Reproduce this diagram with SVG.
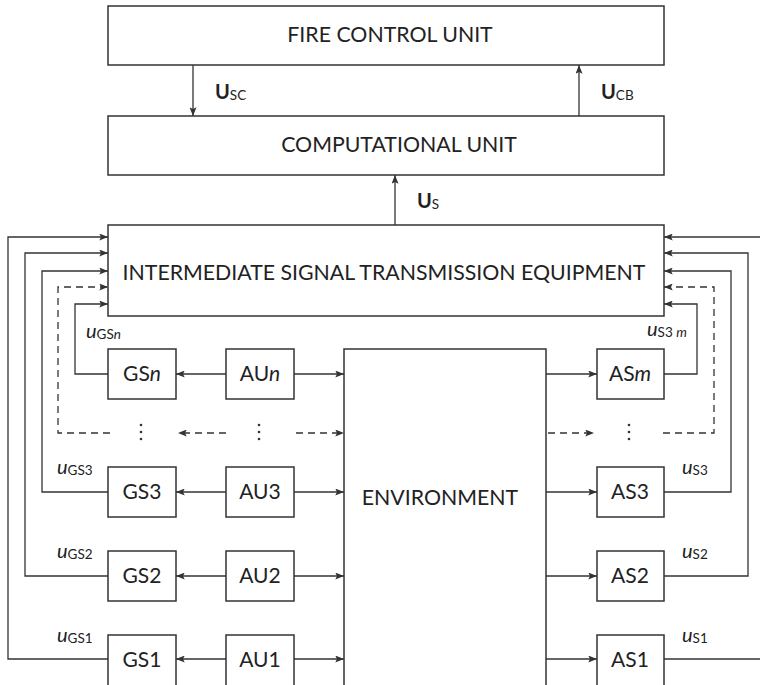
<svg xmlns="http://www.w3.org/2000/svg" width="760" height="685" viewBox="0 0 760 685">
<style>
.box{fill:#fff;stroke:#333;stroke-width:1.5}
.ln{fill:none;stroke:#333;stroke-width:1.3}
.dl{fill:none;stroke:#333;stroke-width:1.3;stroke-dasharray:7,5}
.t{font-family:Lato,"Noto Sans",sans-serif;font-size:21.3px;fill:#222;text-anchor:middle}
.tb{font-family:Lato,"Noto Sans",sans-serif;font-size:21px;fill:#222;text-anchor:middle}
.lb{font-family:Lato,"Noto Sans",sans-serif;font-size:20px;fill:#222}
.sub{font-size:13.5px}
.dot{fill:#333}
</style>
<defs>
<marker id="a" viewBox="0 0 10 8" refX="10" refY="4" markerWidth="9" markerHeight="7" markerUnits="userSpaceOnUse" orient="auto"><path d="M0,0 L10,4 L0,8 L2,4 Z" fill="#333"/></marker>
</defs>
<rect width="760" height="685" fill="#fff"/>
<g id="fcu"><rect class="box" x="108" y="6" width="556" height="59"/><text class="t" x="390" y="42">FIRE CONTROL UNIT</text></g>
<g id="cu"><rect class="box" x="108" y="116" width="556" height="59"/><text class="t" x="399" y="152">COMPUTATIONAL UNIT</text></g>
<g id="iste"><rect class="box" x="108" y="225" width="556" height="91"/><text class="t" x="384" y="280">INTERMEDIATE SIGNAL TRANSMISSION EQUIPMENT</text></g>
<g id="env"><rect class="box" x="344" y="349" width="202" height="340"/><text class="t" x="440" y="505">ENVIRONMENT</text></g>
<g id="gsn"><rect class="box" x="108" y="349" width="68" height="50"/><text class="tb" x="142" y="381">GS<tspan font-style="italic">n</tspan></text></g>
<g id="aun"><rect class="box" x="226" y="349" width="68" height="50"/><text class="tb" x="260" y="381">AU<tspan font-style="italic">n</tspan></text></g>
<g id="asm"><rect class="box" x="597" y="349" width="67" height="50"/><text class="tb" x="630" y="381">AS<tspan font-style="italic">m</tspan></text></g>
<g id="gs3"><rect class="box" x="108" y="467" width="68" height="50"/><text class="tb" x="142" y="499">GS3</text></g>
<g id="au3"><rect class="box" x="226" y="467" width="68" height="50"/><text class="tb" x="260" y="499">AU3</text></g>
<g id="as3"><rect class="box" x="597" y="467" width="67" height="50"/><text class="tb" x="630" y="499">AS3</text></g>
<g id="gs2"><rect class="box" x="108" y="551" width="68" height="50"/><text class="tb" x="142" y="583">GS2</text></g>
<g id="au2"><rect class="box" x="226" y="551" width="68" height="50"/><text class="tb" x="260" y="583">AU2</text></g>
<g id="as2"><rect class="box" x="597" y="551" width="67" height="50"/><text class="tb" x="630" y="583">AS2</text></g>
<g id="gs1"><rect class="box" x="108" y="635" width="68" height="55"/><text class="tb" x="142" y="667">GS1</text></g>
<g id="au1"><rect class="box" x="226" y="635" width="68" height="55"/><text class="tb" x="260" y="667">AU1</text></g>
<g id="as1"><rect class="box" x="597" y="635" width="67" height="55"/><text class="tb" x="630" y="667">AS1</text></g>
<g id="dots">
<circle class="dot" cx="141" cy="425" r="1.3"/><circle class="dot" cx="141" cy="432" r="1.3"/><circle class="dot" cx="141" cy="439" r="1.3"/>
<circle class="dot" cx="259" cy="425" r="1.3"/><circle class="dot" cx="259" cy="432" r="1.3"/><circle class="dot" cx="259" cy="439" r="1.3"/>
<circle class="dot" cx="629" cy="425" r="1.3"/><circle class="dot" cx="629" cy="432" r="1.3"/><circle class="dot" cx="629" cy="439" r="1.3"/>
</g>
<g id="connectors">
<line class="ln" x1="193" y1="65" x2="193" y2="116" marker-end="url(#a)"/>
<line class="ln" x1="579" y1="116" x2="579" y2="65" marker-end="url(#a)"/>
<line class="ln" x1="395" y1="225" x2="395" y2="175" marker-end="url(#a)"/>
<polyline class="ln" points="108,659 8,659 8,237 108,237" marker-end="url(#a)"/>
<polyline class="ln" points="108,576 25,576 25,253 108,253" marker-end="url(#a)"/>
<polyline class="ln" points="108,492 42,492 42,271 108,271" marker-end="url(#a)"/>
<polyline class="dl" points="110,433 58,433 58,287 108,287" marker-end="url(#a)"/>
<polyline class="ln" points="108,374 75,374 75,304 108,304" marker-end="url(#a)"/>
<polyline class="ln" points="664,659 760,659"/>
<polyline class="ln" points="760,237 664,237" marker-end="url(#a)"/>
<polyline class="ln" points="664,576 748,576 748,253 664,253" marker-end="url(#a)"/>
<polyline class="ln" points="664,492 731,492 731,271 664,271" marker-end="url(#a)"/>
<polyline class="dl" points="663,433 714,433 714,287 664,287" marker-end="url(#a)"/>
<polyline class="ln" points="664,374 697,374 697,304 664,304" marker-end="url(#a)"/>
<line class="ln" x1="226" y1="374" x2="176" y2="374" marker-end="url(#a)"/>
<line class="ln" x1="226" y1="492" x2="176" y2="492" marker-end="url(#a)"/>
<line class="ln" x1="226" y1="576" x2="176" y2="576" marker-end="url(#a)"/>
<line class="ln" x1="226" y1="659" x2="176" y2="659" marker-end="url(#a)"/>
<line class="dl" x1="226" y1="433" x2="178" y2="433" marker-end="url(#a)"/>
<line class="ln" x1="294" y1="374" x2="344" y2="374" marker-end="url(#a)"/>
<line class="ln" x1="294" y1="492" x2="344" y2="492" marker-end="url(#a)"/>
<line class="ln" x1="294" y1="576" x2="344" y2="576" marker-end="url(#a)"/>
<line class="ln" x1="294" y1="659" x2="344" y2="659" marker-end="url(#a)"/>
<line class="dl" x1="296" y1="433" x2="344" y2="433" marker-end="url(#a)"/>
<line class="ln" x1="546" y1="374" x2="597" y2="374" marker-end="url(#a)"/>
<line class="ln" x1="546" y1="492" x2="597" y2="492" marker-end="url(#a)"/>
<line class="ln" x1="546" y1="576" x2="597" y2="576" marker-end="url(#a)"/>
<line class="ln" x1="546" y1="659" x2="597" y2="659" marker-end="url(#a)"/>
<line class="dl" x1="548" y1="433" x2="594" y2="433" marker-end="url(#a)"/>
</g>
<g id="labels">
<text class="lb" x="215" y="99" font-weight="bold">U<tspan class="sub" font-weight="normal" dy="1">SC</tspan></text>
<text class="lb" x="601" y="99" font-weight="bold">U<tspan class="sub" font-weight="normal" dy="1">CB</tspan></text>
<text class="lb" x="417" y="208" font-weight="bold">U<tspan class="sub" font-weight="normal" dy="1">S</tspan></text>
<text class="lb" x="86" y="338" font-style="italic">u<tspan class="sub" font-style="normal" dy="1">GS<tspan font-style="italic">n</tspan></tspan></text>
<text class="lb" x="57" y="474" font-style="italic">u<tspan class="sub" font-style="normal" dy="1">GS3</tspan></text>
<text class="lb" x="57" y="558" font-style="italic">u<tspan class="sub" font-style="normal" dy="1">GS2</tspan></text>
<text class="lb" x="57" y="642" font-style="italic">u<tspan class="sub" font-style="normal" dy="1">GS1</tspan></text>
<text class="lb" x="647" y="336" font-style="italic">u<tspan class="sub" font-style="normal" dy="1">S3 <tspan font-style="italic">m</tspan></tspan></text>
<text class="lb" x="682" y="474" font-style="italic">u<tspan class="sub" font-style="normal" dy="1">S3</tspan></text>
<text class="lb" x="682" y="558" font-style="italic">u<tspan class="sub" font-style="normal" dy="1">S2</tspan></text>
<text class="lb" x="682" y="642" font-style="italic">u<tspan class="sub" font-style="normal" dy="1">S1</tspan></text>
</g>
</svg>
